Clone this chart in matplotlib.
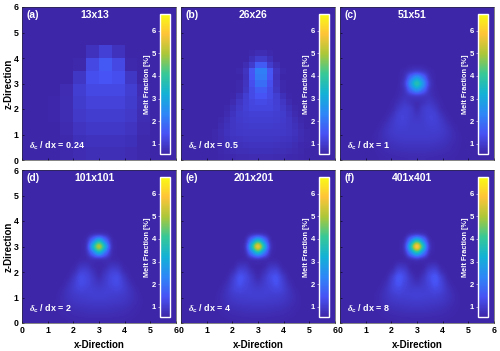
import numpy as np
import matplotlib
matplotlib.use('Agg')
import matplotlib.pyplot as plt
from matplotlib.colors import LinearSegmentedColormap

plt.rcParams['font.family'] = ['Liberation Sans', 'DejaVu Sans']
plt.rcParams['font.weight'] = 'bold'
plt.rcParams['mathtext.fontset'] = 'custom'
plt.rcParams['mathtext.it'] = 'Liberation Serif:italic'
plt.rcParams['mathtext.rm'] = 'Liberation Sans:bold'
plt.rcParams['mathtext.bf'] = 'Liberation Sans:bold'

background = 0.55
vmin, vmax = 0.55, 6.75

parula = [(0.2422, 0.1504, 0.6603), (0.2810, 0.3228, 0.9579), (0.1786, 0.5289, 0.9682),
          (0.0689, 0.6948, 0.8394), (0.2161, 0.7843, 0.5923), (0.6720, 0.7793, 0.2227),
          (0.9970, 0.7659, 0.2199), (0.9769, 0.9839, 0.0805)]

letters = ['(a)', '(b)', '(c)', '(d)', '(e)', '(f)']
titles = ['13x13', '26x26', '51x51', '101x101', '201x201', '401x401']
ratios = ['0.24', '0.5', '1', '2', '4', '8']
ticks = [0, 1, 2, 3, 4, 5, 6]
cbar_ticks = [1, 2, 3, 4, 5, 6]

# 13x13 panel, top row first
grid_a = [
    [.55, .55, .55, .55, .55, .55, .55, .55, .55, .55, .55, .55],
    [.55, .55, .55, .55, .55, .55, .55, .55, .55, .55, .55, .55],
    [.55, .55, .55, .55, .55, .55, .55, .55, .55, .55, .55, .55],
    [.55, .55, .55, .55, .56, .80, 1.10, .80, .56, .55, .55, .55],
    [.55, .55, .55, .55, .60, 1.25, 1.55, 1.25, .60, .55, .55, .55],
    [.55, .55, .55, .57, .90, 1.35, 1.45, 1.35, .90, .57, .55, .55],
    [.55, .55, .56, .68, 1.05, 1.25, 1.25, 1.25, 1.05, .68, .56, .55],
    [.55, .55, .58, .70, 1.00, 1.12, 1.12, 1.12, 1.00, .72, .57, .55],
    [.55, .55, .58, .70, .95, 1.02, 1.02, 1.02, .95, .70, .57, .55],
    [.55, .55, .57, .66, .85, .92, .92, .92, .85, .66, .57, .55],
    [.55, .55, .56, .62, .75, .80, .80, .80, .75, .62, .56, .55],
    [.55, .55, .56, .60, .68, .72, .72, .72, .68, .60, .56, .55],
]

# the others: rows from z=0 up, each row from the centre line outwards
rows_b = [
    [.68, .68, .67, .66, .64, .62, .59, .56],
    [.75, .75, .73, .72, .70, .66, .61, .57],
    [.82, .82, .80, .78, .75, .70, .64, .58],
    [.90, .90, .88, .86, .82, .76, .68, .60],
    [.95, .95, .95, .92, .88, .80, .70, .60],
    [1.0, 1.0, .98, .95, .88, .78, .66, .57],
    [1.05, 1.05, 1.02, .98, .88, .74, .60],
    [1.1, 1.1, 1.05, 1.0, .84, .66, .57],
    [1.2, 1.18, 1.1, .95, .76, .60],
    [1.3, 1.22, 1.08, .88, .66, .56],
    [1.45, 1.3, 1.05, .75, .58],
    [1.6, 1.3, .90, .62],
    [1.9, 1.35, .85, .60],
    [2.1, 1.45, .80, .57],
    [2.2, 1.5, .85, .60],
    [1.6, 1.0, .70, .56],
    [1.0, .75, .57],
    [.70, .60],
]
rows_c = [
    [.66, .66, .65, .64, .62, .60, .58, .56],
    [.75, .75, .74, .72, .70, .66, .61, .57],
    [.85, .85, .85, .82, .78, .72, .64, .58],
    [.95, .95, .95, .93, .88, .78, .68, .59],
    [1.0, 1.0, 1.0, 1.0, .95, .82, .68, .58],
    [1.0, 1.0, 1.05, 1.05, .95, .78, .62],
    [.95, 1.0, 1.1, 1.08, .90, .68, .57],
    [.85, 1.0, 1.1, 1.05, .78, .60],
    [.72, .95, 1.05, .90, .65, .56],
    [.72, .80, .90, .75, .60],
    [1.05, .95, .80, .65, .56],
    [2.6, 1.9, .88, .62],
    [3.7, 2.6, 1.05, .60],
    [2.6, 1.9, .85, .58],
    [1.05, .90, .67, .57],
    [.62, .60],
]
rows_d = [
    [.63, .63, .62, .61, .60, .58, .56],
    [.72, .72, .71, .69, .67, .63, .59, .56],
    [.82, .82, .80, .78, .75, .69, .62, .57],
    [.95, .95, .93, .91, .86, .77, .67, .58],
    [1.05, 1.05, 1.02, 1.0, .94, .82, .68, .57],
    [1.0, 1.05, 1.1, 1.14, 1.02, .82, .64],
    [.88, 1.0, 1.2, 1.28, 1.02, .74, .57],
    [.72, .95, 1.2, 1.28, .92, .63],
    [.62, .80, 1.05, 1.05, .72, .57],
    [.62, .66, .80, .78, .60],
    [.95, .85, .65, .60],
    [3.2, 2.0, .80, .57],
    [5.0, 3.2, .95, .57],
    [3.2, 2.0, .78, .56],
    [.95, .80, .58],
]
rows_e = [
    [.62, .62, .61, .60, .59, .57, .56],
    [.71, .71, .70, .68, .66, .62, .58, .56],
    [.82, .82, .80, .78, .75, .69, .61, .57],
    [.95, .95, .94, .92, .87, .77, .66, .57],
    [1.05, 1.05, 1.03, 1.03, .97, .82, .67, .57],
    [1.0, 1.05, 1.12, 1.2, 1.08, .82, .63],
    [.85, 1.0, 1.2, 1.38, 1.08, .74, .57],
    [.68, .92, 1.25, 1.4, .98, .63],
    [.58, .75, 1.05, 1.12, .74, .56],
    [.58, .60, .78, .78, .58],
    [1.0, .82, .62, .58],
    [3.45, 2.2, .80, .56],
    [5.6, 3.45, 1.0, .56],
    [3.45, 2.2, .78, .56],
    [1.0, .82, .57],
]
rows_f = [
    [.62, .62, .61, .60, .58, .57, .56],
    [.71, .71, .70, .68, .66, .62, .58, .56],
    [.84, .84, .82, .79, .75, .69, .61, .57],
    [.98, .97, .95, .93, .88, .78, .66, .57],
    [1.08, 1.06, 1.05, 1.06, .98, .82, .67, .57],
    [1.02, 1.03, 1.12, 1.24, 1.1, .82, .63],
    [.82, .95, 1.2, 1.45, 1.12, .74, .57],
    [.64, .85, 1.25, 1.48, 1.02, .63],
    [.56, .68, 1.05, 1.15, .74, .56],
    [.57, .58, .75, .78, .58],
    [1.05, .84, .60, .56],
    [3.6, 2.3, .82, .56],
    [5.9, 3.6, 1.05, .56],
    [3.6, 2.3, .80, .56],
    [1.05, .85, .57],
]


def full_grid(rows, double_centre=False):
    half = np.full((25, 13), background)
    for k, row in enumerate(rows):
        half[k, :len(row)] = row
    if double_centre:
        # pcolor drops the last node so the peak ends up two cells wide
        return np.hstack([half[:, :0:-1], half[:, :1], half])[:, :25]
    return np.hstack([half[:, :0:-1], half])


grids = [np.array(grid_a)[::-1], full_grid(rows_b, True), full_grid(rows_c),
         full_grid(rows_d), full_grid(rows_e), full_grid(rows_f)]
smooth = ['nearest', 'nearest', 'catrom', 'catrom', 'catrom', 'catrom']

cmap = LinearSegmentedColormap.from_list('parula', parula, N=256)

W, H = 500.0, 351.0
lefts = [22, 181, 340]
tops = [7, 170]
pw, ph = 154, 153

fig = plt.figure(figsize=(5, 3.51), dpi=100)
for i in range(6):
    row, col = i // 3, i % 3
    ax = fig.add_axes([lefts[col] / W, 1 - (tops[row] + ph) / H, pw / W, ph / H])
    im = ax.imshow(grids[i], origin='lower', extent=(0, 6, 0, 6), cmap=cmap, vmin=vmin, vmax=vmax,
                   interpolation=smooth[i], aspect='auto')
    ax.set_xticks(ticks)
    ax.set_yticks(ticks)
    ax.tick_params(direction='in', length=1.5, width=0.4, labelsize=6.3, pad=2.5,
                   labelbottom=row == 1, labelleft=col == 0)
    for s in ax.spines.values():
        s.set_linewidth(0.4)
        s.set_color('#262626')
    if row == 1:
        ax.set_xlabel('x-Direction', fontsize=7, fontweight='bold', labelpad=3)
    if col == 0:
        ax.set_ylabel('z-Direction', fontsize=7, fontweight='bold', labelpad=0)
    ax.text(0.03, 0.945, letters[i], transform=ax.transAxes, color='white', fontsize=7.5, va='center')
    ax.text(0.47, 0.945, titles[i], transform=ax.transAxes, color='white', fontsize=7.5, ha='center', va='center')
    ax.text(0.045, 0.09, r'$\delta_{\mathbf{c}}$ / dx = ' + ratios[i], transform=ax.transAxes,
            color='white', fontsize=6.5, va='center')

    cax = ax.inset_axes([0.897, 0.04, 0.063, 0.915])
    cb = fig.colorbar(im, cax=cax)
    cb.set_ticks(cbar_ticks)
    cb.ax.yaxis.set_ticks_position('left')
    cb.ax.yaxis.set_label_position('left')
    cb.ax.tick_params(colors='white', length=1.5, width=0.4, labelsize=5.5, pad=1.5)
    cb.outline.set_edgecolor('white')
    cb.outline.set_linewidth(1.0)
    cb.set_label('Melt Fraction [%]', color='white', fontsize=5.3, fontweight='bold', labelpad=0.5)

fig.savefig('out.png', dpi=100)
